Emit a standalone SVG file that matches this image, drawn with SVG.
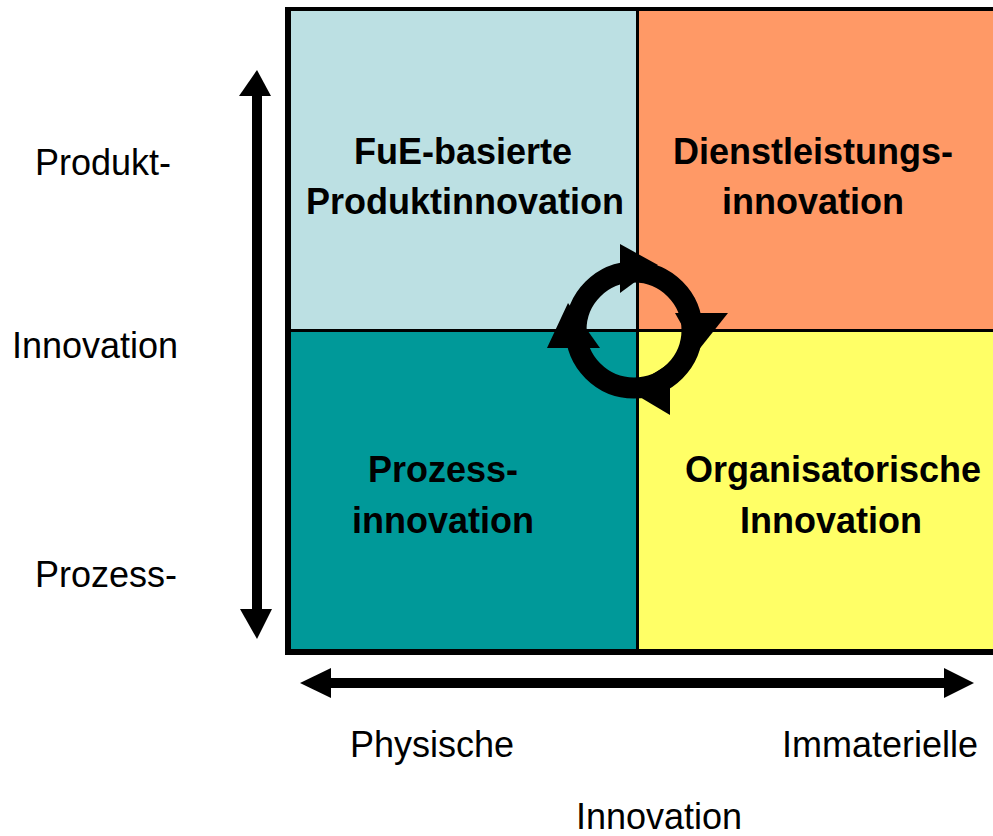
<svg xmlns="http://www.w3.org/2000/svg" width="993" height="836" viewBox="0 0 993 836">
<style>
.lbl{font-family:"Liberation Sans",Arial,sans-serif;font-size:36px;fill:#000}
.q{font-family:"Liberation Sans",Arial,sans-serif;font-size:36px;font-weight:bold;fill:#000;text-anchor:middle}
.ax{fill:#000}
</style>
<rect width="993" height="836" fill="#fff"/>
<rect x="285" y="7" width="720" height="648" fill="#000"/>
<g id="fue">
<rect x="291" y="11" width="345" height="318" fill="#BCE0E3"/>
<text class="q" x="463" y="164">FuE-basierte</text>
<text class="q" x="465" y="214">Produktinnovation</text>
</g>
<g id="dienst">
<rect x="639" y="11" width="360" height="318" fill="#FF9966"/>
<text class="q" x="813" y="164">Dienstleistungs-</text>
<text class="q" x="813" y="214">innovation</text>
</g>
<g id="prozess">
<rect x="291" y="332" width="345" height="317" fill="#009999"/>
<text class="q" x="443" y="482">Prozess-</text>
<text class="q" x="443" y="533">innovation</text>
</g>
<g id="organisation">
<rect x="639" y="332" width="360" height="317" fill="#FFFF66"/>
<text class="q" x="833" y="482">Organisatorische</text>
<text class="q" x="831" y="533">Innovation</text>
</g>
<g id="cycle">
<circle cx="634" cy="330" r="58" fill="none" stroke="#000" stroke-width="21"/>
<polygon class="ax" points="620,244 620,293 658,265"/>
<polygon class="ax" points="675,313 728,313 697,352"/>
<polygon class="ax" points="670,363 670,415 628,390"/>
<polygon class="ax" points="547,348 600,348 568,303"/>
</g>
<g id="connectors">
<rect class="ax" x="252" y="95" width="10" height="515"/>
<polygon class="ax" points="257,70 271,96 239,96"/>
<polygon class="ax" points="257,639 272,609 240,609"/>
<rect class="ax" x="330" y="678" width="615" height="10"/>
<polygon class="ax" points="300,683 331,668 331,698"/>
<polygon class="ax" points="974,683 944,668 944,698"/>
</g>
<g id="labels">
<text class="lbl" x="35" y="175">Produkt-</text>
<text class="lbl" x="12" y="358">Innovation</text>
<text class="lbl" x="35" y="587">Prozess-</text>
<text class="lbl" x="350" y="757">Physische</text>
<text class="lbl" x="782" y="757">Immaterielle</text>
<text class="lbl" x="576" y="829">Innovation</text>
</g>
</svg>
